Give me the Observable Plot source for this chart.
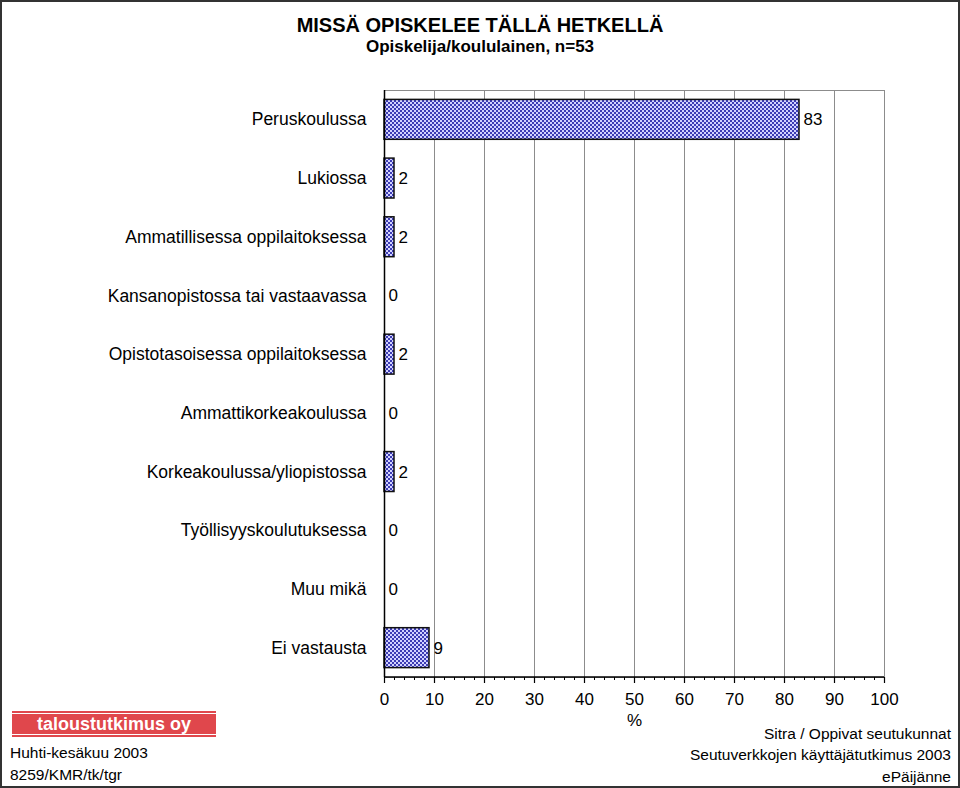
<!DOCTYPE html>
<html><head><meta charset="utf-8">
<script src="https://cdn.jsdelivr.net/npm/d3@7"></script>
<script src="https://cdn.jsdelivr.net/npm/@observablehq/plot@0.6"></script>
<style>
body{margin:0;font-family:"Liberation Sans",Arial,sans-serif;color:#000;background:#fff}
#wrap{position:relative;width:960px;height:788px;box-sizing:border-box;border:2px solid #333;background:#fff;overflow:hidden}
#title{position:absolute;left:0;right:0;top:11px;text-align:center;font-weight:bold;font-size:20px;line-height:24px}
#subtitle{position:absolute;left:0;right:0;top:35px;text-align:center;font-weight:bold;font-size:17px;line-height:20px}
#chart{position:absolute;left:0;top:58px}
#logo{position:absolute;left:10px;top:709px;width:204px}
#logo .ln{height:2px;background:#e0474c}
#logo .bx{height:20px;margin:1px 0;background:#e0474c;color:#fff;font-weight:bold;font-size:18px;line-height:20px;text-align:center}
.ft{position:absolute;font-size:15.5px;line-height:20px;white-space:nowrap}
</style></head><body>
<div id="wrap">
<div id="title">MISSÄ OPISKELEE TÄLLÄ HETKELLÄ</div>
<div id="subtitle">Opiskelija/koululainen, n=53</div>
<div id="chart"></div>
<div id="logo"><div class="ln"></div><div class="bx">taloustutkimus oy</div><div class="ln"></div></div>
<div class="ft" style="left:8px;top:741px">Huhti-kesäkuu 2003</div>
<div class="ft" style="left:8px;top:763px">8259/KMR/tk/tgr</div>
<div class="ft" style="right:7px;top:722px;text-align:right">Sitra / Oppivat seutukunnat</div>
<div class="ft" style="right:7px;top:743px;text-align:right">Seutuverkkojen käyttäjätutkimus 2003</div>
<div class="ft" style="right:7px;top:765px;text-align:right">ePäijänne</div>
</div>
<script>
const categories = ["Peruskoulussa","Lukiossa","Ammatillisessa oppilaitoksessa","Kansanopistossa tai vastaavassa","Opistotasoisessa oppilaitoksessa","Ammattikorkeakoulussa","Korkeakoulussa/yliopistossa","Työllisyyskoulutuksessa","Muu mikä","Ei vastausta"];
const values = [83, 2, 2, 0, 2, 0, 2, 0, 0, 9];
const xTicks = [0, 10, 20, 30, 40, 50, 60, 70, 80, 90, 100];
const xMinorTicks = d3.range(0, 101, 2);
const data = categories.map((c, i) => ({cat: c, value: values[i]}));

const defs = () => {
  const g = d3.create("svg:defs");
  const p = g.append("pattern").attr("id", "checker").attr("width", 4).attr("height", 4).attr("patternUnits", "userSpaceOnUse");
  p.append("rect").attr("width", 4).attr("height", 4).attr("fill", "#d2d2ff");
  p.append("rect").attr("width", 2).attr("height", 2).attr("fill", "#3c3cb4");
  p.append("rect").attr("x", 2).attr("y", 2).attr("width", 2).attr("height", 2).attr("fill", "#3c3cb4");
  return g.node();
};
const bottomLine = (index, scales, values, dim) => {
  const y = dim.height - dim.marginBottom;
  const l = d3.create("svg:line")
    .attr("x1", dim.marginLeft).attr("x2", dim.width - dim.marginRight)
    .attr("y1", y).attr("y2", y).attr("stroke", "#000").attr("stroke-width", 1.5);
  return l.node();
};

const chart = Plot.plot({
  width: 956,
  height: 680,
  marginLeft: 382,
  marginRight: 74,
  marginTop: 30,
  marginBottom: 63,
  style: {fontFamily: "'Liberation Sans', Arial, sans-serif", color: "#000", background: "transparent", overflow: "visible"},
  x: {domain: [0, 100]},
  y: {domain: categories, paddingInner: 0.32, paddingOuter: 0.16, round: false},
  marks: [
    defs,
    Plot.frame({stroke: "#8c8c8c"}),
    Plot.ruleX(xTicks.slice(1), {stroke: "#8c8c8c", strokeWidth: 1}),
    Plot.barX(data, {filter: d => d.value > 0, x: "value", y: "cat", fill: "url(#checker)", stroke: "#111", strokeWidth: 1.5}),
    Plot.text(data, {x: "value", y: "cat", text: d => String(d.value), textAnchor: "start", dx: 4, fontSize: 17, fill: "#000"}),
    Plot.ruleX([0], {stroke: "#000", strokeWidth: 1.5}),
    bottomLine,
    Plot.axisX(xMinorTicks, {tickSize: 3, tickFormat: () => "", label: null, strokeWidth: 1}),
    Plot.axisX(xTicks, {tickSize: 6, tickPadding: 9, fontSize: 17, label: "%", labelAnchor: "center", labelArrow: "none", labelOffset: 48, strokeWidth: 1.2}),
    Plot.axisY({tickSize: 0, tickPadding: 18, fontSize: 17.5, label: null})
  ]
});
document.getElementById("chart").appendChild(chart);
</script>
</body></html>
